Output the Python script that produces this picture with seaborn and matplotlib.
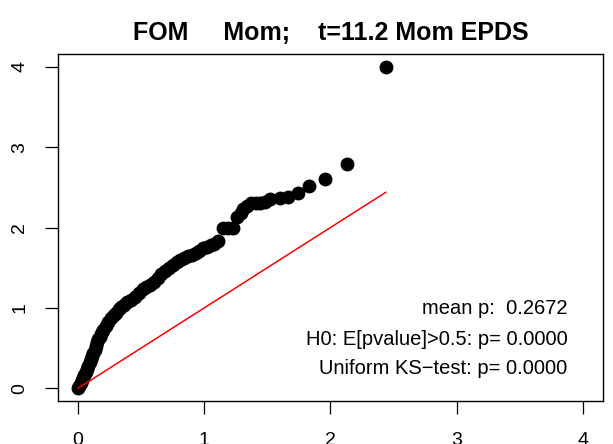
import numpy as np
import pandas as pd
import matplotlib
matplotlib.use('Agg')
import matplotlib.pyplot as plt
import seaborn as sns

# expected vs observed -log10(p)
expected = [0.00, 0.01, 0.02, 0.03, 0.04, 0.05, 0.06, 0.07, 0.08, 0.09,
            0.10, 0.11, 0.12, 0.13, 0.14, 0.15, 0.16, 0.17, 0.18, 0.19,
            0.20, 0.22, 0.24, 0.26, 0.28, 0.30, 0.32, 0.34, 0.36, 0.39,
            0.42, 0.45, 0.48, 0.51, 0.54, 0.57, 0.60, 0.63, 0.66, 0.69,
            0.72, 0.75, 0.78, 0.81, 0.84, 0.87, 0.90, 0.93, 0.96, 0.99,
            1.02, 1.05, 1.08, 1.11, 1.15, 1.19, 1.23, 1.26, 1.29, 1.31,
            1.34, 1.37, 1.41, 1.44, 1.48, 1.52, 1.60, 1.66, 1.74, 1.83,
            1.96, 2.13, 2.44]
observed = [0.00, 0.03, 0.06, 0.10, 0.13, 0.17, 0.20, 0.24, 0.28, 0.32,
            0.36, 0.40, 0.44, 0.48, 0.52, 0.57, 0.61, 0.64, 0.67, 0.70,
            0.72, 0.77, 0.82, 0.87, 0.91, 0.94, 0.98, 1.01, 1.04, 1.07,
            1.10, 1.14, 1.18, 1.23, 1.26, 1.28, 1.32, 1.37, 1.42, 1.46,
            1.50, 1.53, 1.57, 1.60, 1.62, 1.64, 1.66, 1.68, 1.71, 1.74,
            1.76, 1.78, 1.80, 1.83, 2.00, 2.00, 2.00, 2.13, 2.18, 2.23,
            2.27, 2.30, 2.30, 2.30, 2.32, 2.35, 2.37, 2.38, 2.43, 2.52,
            2.60, 2.79, 4.00]
diag = [0.0, 2.44]

title = 'FOM     Mom;    t=11.2 Mom EPDS'
stats = ['mean p:  0.2672',
         'H0: E[pvalue]>0.5: p= 0.0000',
         'Uniform KS\u2212test: p= 0.0000']
stats_y = [0.99, 0.60, 0.25]
ticks = [0, 1, 2, 3, 4]

sns.set_style('ticks')
plt.rcParams['font.family'] = ['Liberation Sans', 'DejaVu Sans']

df = pd.DataFrame({'expected': expected, 'observed': observed})

fig = plt.figure(figsize=(6.13, 4.44), dpi=100)
ax = fig.add_axes([0.0946, 0.0968, 0.8891, 0.7816])

sns.scatterplot(data=df, x='expected', y='observed', color='black',
                s=100, linewidth=0, ax=ax, zorder=3)
sns.lineplot(x=diag, y=diag, color='red', linewidth=1.1, ax=ax, zorder=4)

ax.set_xlim(-0.16, 4.16)
ax.set_ylim(-0.16, 4.16)
ax.set_xticks(ticks)
ax.set_yticks(ticks)
ax.set_xlabel('')
ax.set_ylabel('')
ax.tick_params(axis='both', length=9.4, width=0.9, labelsize=14,
               color='black', labelcolor='black')
ax.tick_params(axis='x', pad=13)
ax.tick_params(axis='y', pad=12, labelrotation=90)
for lab in ax.get_yticklabels():
    lab.set_va('center')
for sp in ax.spines.values():
    sp.set_color('black')
    sp.set_linewidth(1.0)

for txt, yy in zip(stats, stats_y):
    ax.text(3.88, yy, txt, ha='right', va='center', fontsize=14.5,
            color='black')

ax.set_title(title, fontsize=18, fontweight='bold', pad=10, color='black')

fig.savefig('out.png', dpi=100)
